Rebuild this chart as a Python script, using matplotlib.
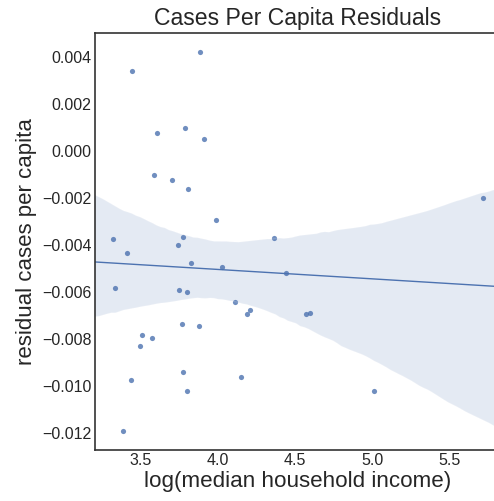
import matplotlib
matplotlib.use("Agg")
import matplotlib.pyplot as plt
import numpy as np
import pandas as pd
import seaborn as sns

# log median household income per county
log_income = [
    3.883, 3.443, 3.601, 3.788, 3.911, 3.587, 3.703, 3.807, 3.989,
    3.318, 3.770, 3.742, 4.366, 3.409, 3.822, 4.028, 4.440, 3.329,
    3.749, 3.799, 4.112, 4.190, 4.208, 3.768, 3.879, 3.504, 3.569,
    3.491, 3.773, 3.437, 4.149, 3.797, 3.383, 5.716, 4.573, 4.599,
    5.013,
]
# residual cases per capita
residual = [
    0.00421, 0.00342, 0.00078, 0.00098, 0.00050, -0.00102, -0.00125, -0.00163, -0.00295,
    -0.00376, -0.00365, -0.00401, -0.00372, -0.00435, -0.00478, -0.00495, -0.00519, -0.00582,
    -0.00591, -0.00600, -0.00644, -0.00695, -0.00677, -0.00738, -0.00745, -0.00783, -0.00797,
    -0.00828, -0.00939, -0.00974, -0.00963, -0.01023, -0.01193, -0.00199, -0.00692, -0.00691,
    -0.01020,
]

df = pd.DataFrame({"log_income": log_income, "residual": residual})

sns.set_style("white")
plt.rcParams["font.family"] = ["Liberation Sans", "DejaVu Sans"]

W, H = 494, 501
fig = plt.figure(figsize=(W / 100, H / 100), dpi=100)
ax = fig.add_axes([94.5 / W, (H - 450) / H, (501 - 94.5) / W, (450 - 33) / H])

sns.regplot(
    data=df, x="log_income", y="residual", ax=ax, seed=7, ci=95,
    truncate=False, color="#4C72B0",
    scatter_kws={"s": 14, "linewidths": 0},
    line_kws={"lw": 1},
)

for side in ["left", "bottom", "top"]:
    ax.spines[side].set_visible(True)
    ax.spines[side].set_color(".2")
    ax.spines[side].set_linewidth(1.2)
ax.spines["right"].set_visible(False)

ax.set_title("Cases Per Capita Residuals", fontsize=16.6, color=".15")
ax.set_xlabel("log(median household income)", fontsize=16.1, color=".15", labelpad=2)
ax.set_ylabel("residual cases per capita", fontsize=16, color=".15")
ax.tick_params(labelsize=11.5, colors=".15", pad=2, length=0)
ax.set_yticks(np.arange(-0.012, 0.0041, 0.002))
ax.set_xticks([3.5, 4.0, 4.5, 5.0, 5.5])
ax.yaxis.set_major_formatter(
    matplotlib.ticker.FuncFormatter(lambda v, _: f"{v:.3f}".replace("-", "\u2212"))
)
ax.set_xlim(3.198, 5.836)
ax.set_ylim(-0.01272, 0.00502)

fig.savefig("out.png", dpi=100)
